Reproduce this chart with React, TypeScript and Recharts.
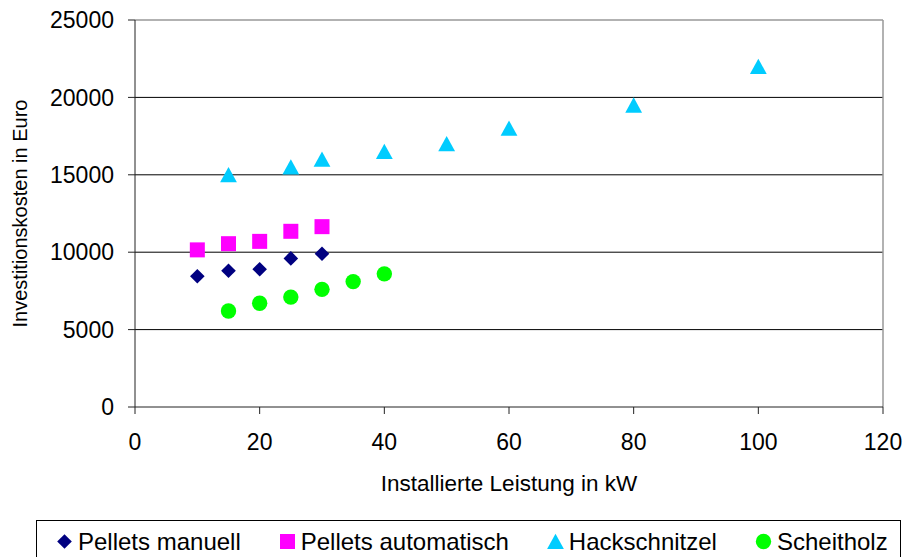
import React from 'react';
import {
  ScatterChart,
  Scatter,
  XAxis,
  YAxis,
  CartesianGrid,
  Legend,
  ReferenceLine,
  Label,
} from 'recharts';

const FONT = '"Liberation Sans", Arial, sans-serif';

// Leistung (kW) und Investitionskosten (Euro) je Heizungsart
const pelletsManuellKw = [10, 15, 20, 25, 30];
const pelletsManuellEuro = [8450, 8800, 8900, 9600, 9900];

const pelletsAutoKw = [10, 15, 20, 25, 30];
const pelletsAutoEuro = [10150, 10550, 10700, 11350, 11650];

const hackschnitzelKw = [15, 25, 30, 40, 50, 60, 80, 100];
const hackschnitzelEuro = [15000, 15500, 16000, 16500, 17000, 18000, 19500, 22000];

const scheitholzKw = [15, 20, 25, 30, 35, 40];
const scheitholzEuro = [6200, 6700, 7100, 7600, 8100, 8600];

const xTicks = [0, 20, 40, 60, 80, 100, 120];
const yTicks = [0, 5000, 10000, 15000, 20000, 25000];

const toPoints = (kw: number[], euro: number[]) =>
  kw.map((x, i) => ({ x, y: euro[i] }));

type ShapeProps = { cx?: number; cy?: number; fill?: string };

const DiamondShape = ({ cx = 0, cy = 0, fill }: ShapeProps) => (
  <path d={`M${cx},${cy - 7.3}L${cx + 7.3},${cy}L${cx},${cy + 7.3}L${cx - 7.3},${cy}Z`} fill={fill} />
);

const SquareShape = ({ cx = 0, cy = 0, fill }: ShapeProps) => (
  <rect x={cx - 7.5} y={cy - 7.5} width={15} height={15} fill={fill} />
);

const TriangleShape = ({ cx = 0, cy = 0, fill }: ShapeProps) => (
  <path d={`M${cx},${cy - 7.8}L${cx + 8.4},${cy + 7.5}L${cx - 8.4},${cy + 7.5}Z`} fill={fill} />
);

const CircleShape = ({ cx = 0, cy = 0, fill }: ShapeProps) => (
  <circle cx={cx} cy={cy} r={7.7} fill={fill} />
);

const series = [
  { name: 'Pellets manuell', color: '#000080', shape: DiamondShape, data: toPoints(pelletsManuellKw, pelletsManuellEuro) },
  { name: 'Pellets automatisch', color: '#FF00FF', shape: SquareShape, data: toPoints(pelletsAutoKw, pelletsAutoEuro) },
  { name: 'Hackschnitzel', color: '#00CCFF', shape: TriangleShape, data: toPoints(hackschnitzelKw, hackschnitzelEuro) },
  { name: 'Scheitholz', color: '#00FF00', shape: CircleShape, data: toPoints(scheitholzKw, scheitholzEuro) },
];

const LegendBox = () => (
  <div
    style={{
      boxSizing: 'border-box',
      width: '100%',
      height: '100%',
      border: '1px solid #000',
      borderBottom: 'none',
      display: 'flex',
      alignItems: 'center',
      paddingLeft: 19,
      paddingTop: 2,
      gap: 38,
      fontFamily: FONT,
      fontSize: 24,
      color: '#000',
    }}
  >
    {series.map((s) => {
      const Shape = s.shape;
      return (
        <div key={s.name} style={{ display: 'flex', alignItems: 'center', gap: 5, whiteSpace: 'nowrap' }}>
          <svg width={17} height={17}>
            <Shape cx={8.5} cy={8.5} fill={s.color} />
          </svg>
          <span>{s.name}</span>
        </div>
      );
    })}
  </div>
);

export default function App() {
  return (
    <div style={{ position: 'absolute', left: 0, top: 0, width: 907, height: 557, background: '#fff' }}>
      <ScatterChart width={907} height={557} margin={{ top: 20, right: 24, bottom: 60, left: 0 }}>
        <CartesianGrid vertical={false} horizontalValues={[5000, 10000, 15000, 20000]} stroke="#000" strokeWidth={1} />
        <XAxis
          type="number"
          dataKey="x"
          domain={[0, 120]}
          ticks={xTicks}
          interval={0}
          height={90}
          tickSize={7}
          tickMargin={20}
          axisLine={{ stroke: '#222' }}
          tickLine={{ stroke: '#222' }}
          tick={{ fill: '#000', fontSize: 23, fontFamily: FONT }}
        >
          <Label
            content={({ viewBox }: any) => (
              <text
                x={viewBox.x + viewBox.width / 2}
                y={483}
                textAnchor="middle"
                dominantBaseline="central"
                fontSize={22.5}
                fontFamily={FONT}
                fill="#000"
              >
                Installierte Leistung in kW
              </text>
            )}
          />
        </XAxis>
        <YAxis
          type="number"
          dataKey="y"
          domain={[0, 25000]}
          ticks={yTicks}
          interval={0}
          width={135}
          tickSize={7}
          tickMargin={14}
          axisLine={{ stroke: '#222' }}
          tickLine={{ stroke: '#222' }}
          tick={{ fill: '#000', fontSize: 23, fontFamily: FONT }}
        >
          <Label
            content={({ viewBox }: any) => {
              const cy = viewBox.y + viewBox.height / 2;
              return (
                <text
                  x={20}
                  y={cy}
                  transform={`rotate(-90 20 ${cy})`}
                  textAnchor="middle"
                  dominantBaseline="central"
                  fontSize={20}
                  fontFamily={FONT}
                  fill="#000"
                >
                  Investitionskosten in Euro
                </text>
              );
            }}
          />
        </YAxis>
        <ReferenceLine y={25000} stroke="#999" strokeWidth={1.5} />
        <ReferenceLine x={120} stroke="#999" strokeWidth={1.5} />
        {series.map((s) => (
          <Scatter
            key={s.name}
            name={s.name}
            data={s.data}
            fill={s.color}
            shape={s.shape as any}
            isAnimationActive={false}
          />
        ))}
        <Legend
          layout="horizontal"
          verticalAlign="middle"
          align="center"
          content={() => <LegendBox />}
          wrapperStyle={{ left: 36, top: 520, width: 865, height: 40 }}
        />
      </ScatterChart>
    </div>
  );
}
